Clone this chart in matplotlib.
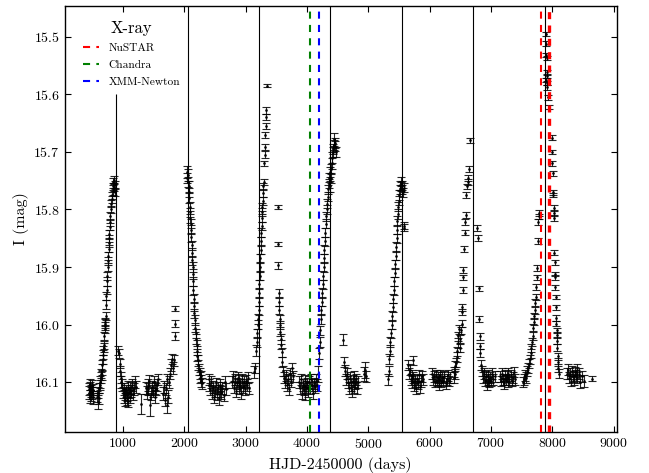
"""
OGLE I-band light curve with periastron markers and X-ray epochs
"""
import matplotlib.pyplot as plt

plt.rcParams["font.family"] = ["cmr10", "DejaVu Serif"]
plt.rcParams["axes.formatter.use_mathtext"] = True
plt.rcParams["mathtext.fontset"] = "cm"

# (HJD-2450000, I mag, error) per observing stretch
season_1 = [
    (440, 16.112, 0.010), (450, 16.118, 0.011), (456, 16.104, 0.010), (463, 16.125, 0.011),
    (470, 16.110, 0.010), (478, 16.121, 0.012), (485, 16.115, 0.010), (492, 16.107, 0.011),
    (500, 16.119, 0.010), (508, 16.126, 0.011), (515, 16.113, 0.010),
    (580, 16.125, 0.010), (590, 16.135, 0.012), (600, 16.118, 0.010), (605, 16.128, 0.010),
    (612, 16.110, 0.009), (620, 16.100, 0.010), (628, 16.105, 0.009), (635, 16.092, 0.009),
    (642, 16.085, 0.008), (650, 16.078, 0.009), (655, 16.088, 0.008), (662, 16.070, 0.008),
    (668, 16.060, 0.008), (672, 16.052, 0.008), (678, 16.045, 0.008), (684, 16.035, 0.007),
    (690, 16.040, 0.008), (695, 16.020, 0.007), (700, 16.008, 0.007), (705, 16.002, 0.007),
    (710, 15.995, 0.007), (715, 15.998, 0.007), (720, 15.985, 0.007), (725, 15.965, 0.007),
    (730, 15.950, 0.007), (735, 15.940, 0.007), (740, 15.925, 0.007), (745, 15.915, 0.007),
    (750, 15.900, 0.007), (755, 15.890, 0.007), (760, 15.880, 0.007), (765, 15.868, 0.006),
    (770, 15.858, 0.007), (775, 15.850, 0.006), (780, 15.842, 0.007), (785, 15.830, 0.006),
    (790, 15.822, 0.006), (795, 15.812, 0.007), (800, 15.800, 0.006), (808, 15.790, 0.006),
    (815, 15.782, 0.006), (822, 15.775, 0.006), (830, 15.768, 0.006), (838, 15.760, 0.006),
    (845, 15.752, 0.006), (852, 15.762, 0.006), (860, 15.748, 0.006), (868, 15.770, 0.006),
    (875, 15.756, 0.006),
]

season_2 = [
    (925, 16.045, 0.008), (935, 16.050, 0.008), (945, 16.068, 0.008), (955, 16.080, 0.009),
    (965, 16.092, 0.009), (975, 16.100, 0.010), (990, 16.105, 0.010), (1000, 16.118, 0.010),
    (1010, 16.125, 0.011), (1020, 16.112, 0.010), (1030, 16.130, 0.011), (1040, 16.120, 0.010),
    (1050, 16.115, 0.010), (1060, 16.128, 0.011), (1070, 16.122, 0.010), (1080, 16.108, 0.010),
    (1090, 16.132, 0.011), (1100, 16.118, 0.010), (1110, 16.110, 0.010), (1120, 16.125, 0.011),
    (1135, 16.115, 0.010), (1150, 16.105, 0.010), (1165, 16.120, 0.011), (1180, 16.112, 0.010),
    (1195, 16.100, 0.010), (1210, 16.108, 0.010), (1290, 16.138, 0.017),
    (1370, 16.110, 0.010), (1385, 16.118, 0.011), (1400, 16.105, 0.010), (1415, 16.112, 0.010),
    (1430, 16.098, 0.010), (1445, 16.140, 0.018), (1455, 16.120, 0.010), (1470, 16.108, 0.010),
    (1485, 16.115, 0.011), (1500, 16.100, 0.010), (1515, 16.110, 0.010), (1530, 16.125, 0.011),
    (1545, 16.112, 0.010), (1560, 16.105, 0.010), (1575, 16.095, 0.010),
    (1650, 16.120, 0.011), (1665, 16.108, 0.010), (1680, 16.130, 0.011), (1695, 16.112, 0.010),
    (1710, 16.095, 0.010), (1725, 16.140, 0.013), (1740, 16.125, 0.011), (1755, 16.100, 0.010),
    (1770, 16.085, 0.010), (1785, 16.070, 0.010), (1800, 16.060, 0.009), (1815, 16.075, 0.010),
    (1830, 16.062, 0.009),
    (1848, 15.972, 0.005), (1850, 15.998, 0.006), (1852, 16.019, 0.007),
]

season_3 = [
    (2045, 15.735, 0.010), (2052, 15.745, 0.009), (2060, 15.740, 0.010), (2066, 15.752, 0.009),
    (2072, 15.760, 0.009), (2078, 15.770, 0.008), (2082, 15.780, 0.008), (2088, 15.795, 0.008),
    (2093, 15.805, 0.008), (2098, 15.815, 0.008), (2104, 15.825, 0.008), (2110, 15.835, 0.008),
    (2115, 15.848, 0.008), (2120, 15.862, 0.008), (2125, 15.875, 0.008), (2130, 15.888, 0.008),
    (2135, 15.900, 0.008), (2140, 15.912, 0.008), (2145, 15.925, 0.008), (2150, 15.940, 0.008),
    (2155, 15.955, 0.008), (2160, 15.968, 0.008), (2165, 15.980, 0.008), (2172, 15.992, 0.008),
    (2178, 16.005, 0.008), (2185, 16.015, 0.008), (2192, 16.025, 0.008), (2200, 16.035, 0.008),
    (2208, 16.045, 0.008), (2215, 16.055, 0.008), (2222, 16.062, 0.009), (2230, 16.070, 0.009),
    (2240, 16.078, 0.009), (2250, 16.085, 0.009), (2260, 16.092, 0.009), (2270, 16.098, 0.010),
    (2280, 16.090, 0.009), (2290, 16.102, 0.010),
    (2395, 16.095, 0.010), (2410, 16.105, 0.010), (2425, 16.112, 0.010), (2440, 16.100, 0.010),
    (2455, 16.118, 0.011), (2470, 16.108, 0.010), (2485, 16.125, 0.011), (2500, 16.115, 0.010),
    (2515, 16.102, 0.010), (2530, 16.120, 0.011), (2545, 16.110, 0.010), (2560, 16.128, 0.011),
    (2575, 16.115, 0.010), (2590, 16.105, 0.010), (2605, 16.118, 0.011), (2620, 16.110, 0.010),
    (2640, 16.122, 0.010), (2660, 16.100, 0.010), (2680, 16.112, 0.010),
    (2780, 16.100, 0.010), (2795, 16.090, 0.010), (2810, 16.108, 0.010), (2825, 16.095, 0.010),
    (2840, 16.115, 0.011), (2855, 16.102, 0.010), (2870, 16.092, 0.010), (2885, 16.110, 0.010),
    (2900, 16.098, 0.010), (2915, 16.105, 0.010), (2930, 16.118, 0.011), (2945, 16.095, 0.010),
    (2960, 16.108, 0.010), (2975, 16.100, 0.010), (2990, 16.112, 0.010), (3005, 16.098, 0.010),
    (3020, 16.105, 0.010), (3040, 16.092, 0.010), (3060, 16.110, 0.010),
    (3130, 16.082, 0.010), (3150, 16.075, 0.009), (3170, 16.045, 0.009), (3180, 16.030, 0.009),
    (3190, 16.015, 0.008), (3200, 16.000, 0.008), (3205, 15.990, 0.008), (3210, 15.975, 0.008),
    (3215, 15.960, 0.008), (3220, 15.945, 0.008), (3225, 15.930, 0.008), (3230, 15.915, 0.008),
    (3235, 15.900, 0.008), (3240, 15.885, 0.008), (3245, 15.870, 0.008), (3250, 15.855, 0.008),
    (3255, 15.840, 0.007), (3260, 15.828, 0.007), (3265, 15.815, 0.007), (3270, 15.805, 0.007),
    (3275, 15.795, 0.007), (3280, 15.785, 0.007), (3285, 15.772, 0.007), (3290, 15.760, 0.006),
]

season_4 = [
    (3300, 15.752, 0.005), (3305, 15.720, 0.005), (3310, 15.705, 0.006), (3318, 15.692, 0.005),
    (3322, 15.670, 0.005), (3326, 15.655, 0.006), (3330, 15.640, 0.005), (3335, 15.628, 0.006),
    (3345, 15.585, 0.003),
    (3525, 15.796, 0.004), (3530, 15.860, 0.004), (3535, 15.897, 0.006),
    (3540, 15.945, 0.007), (3545, 15.960, 0.007), (3550, 15.975, 0.007), (3555, 15.990, 0.007),
    (3560, 16.000, 0.007), (3565, 16.012, 0.008), (3570, 16.025, 0.008), (3580, 16.035, 0.008),
    (3590, 16.048, 0.008),
    (3600, 16.065, 0.009), (3615, 16.080, 0.009), (3630, 16.092, 0.010), (3645, 16.100, 0.010),
    (3660, 16.088, 0.009), (3675, 16.105, 0.010), (3690, 16.095, 0.010), (3705, 16.112, 0.010),
    (3720, 16.085, 0.009), (3735, 16.098, 0.010), (3750, 16.075, 0.009), (3765, 16.090, 0.010),
    (3870, 16.100, 0.010), (3885, 16.110, 0.010), (3900, 16.095, 0.010), (3915, 16.118, 0.011),
    (3930, 16.105, 0.010), (3945, 16.112, 0.010), (3960, 16.098, 0.010), (3975, 16.120, 0.011),
    (3990, 16.108, 0.010), (4005, 16.102, 0.010), (4020, 16.115, 0.010), (4035, 16.100, 0.010),
    (4050, 16.110, 0.010), (4065, 16.095, 0.010), (4080, 16.105, 0.010), (4095, 16.118, 0.011),
    (4110, 16.102, 0.010), (4125, 16.108, 0.010), (4140, 16.095, 0.010), (4160, 16.105, 0.010),
    (4185, 16.085, 0.014), (4195, 16.050, 0.009), (4205, 16.030, 0.008), (4215, 16.010, 0.008),
    (4225, 15.990, 0.008), (4232, 15.975, 0.008), (4240, 15.960, 0.008), (4248, 15.945, 0.008),
    (4255, 15.930, 0.008), (4262, 15.915, 0.008), (4270, 15.900, 0.008), (4278, 15.885, 0.008),
    (4285, 15.870, 0.008), (4292, 15.855, 0.008), (4300, 15.840, 0.008), (4308, 15.825, 0.008),
    (4315, 15.812, 0.008), (4322, 15.800, 0.008), (4330, 15.790, 0.008), (4338, 15.778, 0.008),
    (4345, 15.765, 0.008), (4352, 15.755, 0.008), (4360, 15.745, 0.008), (4368, 15.735, 0.008),
    (4380, 15.760, 0.009), (4390, 15.745, 0.009), (4398, 15.730, 0.009), (4405, 15.720, 0.009),
    (4412, 15.710, 0.009), (4420, 15.700, 0.009), (4428, 15.695, 0.009), (4436, 15.688, 0.009),
    (4445, 15.678, 0.011), (4455, 15.690, 0.009), (4465, 15.685, 0.009), (4475, 15.700, 0.009),
]

season_5 = [
    (4590, 16.026, 0.010),
    (4610, 16.065, 0.009), (4625, 16.080, 0.010), (4640, 16.095, 0.010), (4655, 16.085, 0.010),
    (4670, 16.100, 0.010), (4685, 16.110, 0.011), (4700, 16.092, 0.010), (4715, 16.105, 0.010),
    (4730, 16.115, 0.011), (4745, 16.098, 0.010), (4760, 16.108, 0.010), (4775, 16.090, 0.010),
    (4790, 16.102, 0.010), (4805, 16.095, 0.010), (4820, 16.110, 0.010), (4840, 16.100, 0.010),
    (4930, 16.085, 0.012), (4945, 16.078, 0.014), (4960, 16.090, 0.010),
    (5320, 16.095, 0.010), (5330, 16.080, 0.009), (5340, 16.060, 0.009), (5350, 16.045, 0.009),
    (5360, 16.030, 0.008), (5370, 16.015, 0.008), (5380, 16.000, 0.008), (5390, 15.985, 0.008),
    (5400, 15.970, 0.008), (5408, 15.955, 0.008), (5415, 15.940, 0.008), (5422, 15.925, 0.008),
    (5430, 15.910, 0.008), (5438, 15.895, 0.008), (5445, 15.880, 0.008), (5452, 15.865, 0.008),
    (5460, 15.850, 0.008), (5468, 15.835, 0.008), (5475, 15.820, 0.008), (5482, 15.808, 0.008),
    (5490, 15.795, 0.008), (5498, 15.785, 0.008), (5505, 15.775, 0.008), (5512, 15.765, 0.008),
    (5520, 15.758, 0.008), (5528, 15.760, 0.008), (5536, 15.752, 0.008), (5545, 15.765, 0.008),
    (5555, 15.758, 0.008), (5565, 15.770, 0.008), (5575, 15.762, 0.008),
    (5580, 15.832, 0.006), (5590, 15.828, 0.006),
    (5650, 16.070, 0.009), (5660, 16.085, 0.010), (5675, 16.078, 0.010), (5690, 16.095, 0.010),
    (5705, 16.088, 0.010), (5720, 16.100, 0.010), (5730, 16.062, 0.008), (5735, 16.092, 0.010),
    (5750, 16.105, 0.010), (5765, 16.098, 0.010), (5780, 16.110, 0.010), (5795, 16.095, 0.010),
    (5810, 16.102, 0.010), (5825, 16.088, 0.010), (5840, 16.108, 0.010), (5860, 16.098, 0.010),
    (5880, 16.090, 0.010), (5900, 16.095, 0.010),
    (6040, 16.085, 0.009), (6055, 16.095, 0.009), (6070, 16.090, 0.009), (6085, 16.100, 0.009),
    (6100, 16.088, 0.009), (6115, 16.098, 0.009), (6130, 16.092, 0.009), (6145, 16.105, 0.009),
    (6160, 16.095, 0.009), (6175, 16.088, 0.009), (6190, 16.100, 0.009), (6205, 16.092, 0.009),
    (6220, 16.098, 0.009), (6240, 16.090, 0.009), (6260, 16.102, 0.009), (6280, 16.095, 0.009),
    (6300, 16.088, 0.009), (6320, 16.098, 0.009), (6340, 16.092, 0.009),
]

season_6 = [
    (6390, 16.092, 0.009), (6400, 16.082, 0.009), (6410, 16.072, 0.009), (6420, 16.086, 0.009),
    (6430, 16.066, 0.008), (6440, 16.056, 0.008), (6450, 16.046, 0.008), (6460, 16.032, 0.008),
    (6470, 16.020, 0.008), (6480, 16.008, 0.008), (6490, 16.040, 0.007), (6500, 16.025, 0.007),
    (6510, 16.010, 0.006), (6520, 15.998, 0.006), (6530, 15.978, 0.006), (6535, 15.970, 0.006),
    (6540, 15.940, 0.005), (6545, 15.918, 0.005), (6550, 15.905, 0.005), (6560, 15.868, 0.005),
    (6570, 15.840, 0.005), (6580, 15.822, 0.005), (6590, 15.810, 0.005), (6600, 15.775, 0.005),
    (6610, 15.760, 0.005), (6620, 15.752, 0.005), (6630, 15.745, 0.005), (6640, 15.730, 0.005),
    (6660, 15.680, 0.004),
    (6780, 15.832, 0.005), (6785, 15.850, 0.005), (6800, 15.937, 0.005), (6810, 15.990, 0.005),
    (6815, 16.020, 0.006), (6822, 16.037, 0.006), (6828, 16.050, 0.007),
    (6840, 16.070, 0.008), (6855, 16.080, 0.009), (6870, 16.092, 0.009), (6885, 16.085, 0.009),
    (6900, 16.098, 0.009), (6915, 16.090, 0.009), (6930, 16.105, 0.009), (6945, 16.095, 0.009),
    (6960, 16.088, 0.009), (6975, 16.100, 0.009), (6990, 16.092, 0.009), (7005, 16.098, 0.009),
    (7020, 16.085, 0.009), (7040, 16.095, 0.009), (7060, 16.090, 0.009),
    (7150, 16.090, 0.009), (7165, 16.098, 0.009), (7180, 16.085, 0.009), (7195, 16.095, 0.009),
    (7210, 16.102, 0.009), (7225, 16.088, 0.009), (7240, 16.096, 0.009), (7255, 16.090, 0.009),
    (7270, 16.100, 0.009), (7285, 16.085, 0.009), (7300, 16.095, 0.009), (7320, 16.088, 0.009),
    (7340, 16.098, 0.009), (7360, 16.092, 0.009), (7380, 16.082, 0.009), (7400, 16.095, 0.009),
    (7530, 16.100, 0.009), (7545, 16.095, 0.009), (7560, 16.088, 0.009), (7575, 16.092, 0.009),
    (7590, 16.080, 0.009), (7605, 16.075, 0.009), (7620, 16.068, 0.008), (7635, 16.060, 0.008),
    (7650, 16.050, 0.008), (7660, 16.040, 0.007), (7670, 16.030, 0.007), (7680, 16.020, 0.007),
    (7690, 16.005, 0.006), (7700, 15.995, 0.006), (7710, 15.985, 0.006), (7718, 15.975, 0.006),
    (7725, 15.962, 0.006), (7732, 15.952, 0.006), (7740, 15.935, 0.005), (7748, 15.918, 0.005),
    (7755, 15.902, 0.005), (7765, 15.855, 0.005), (7775, 15.822, 0.005), (7785, 15.812, 0.005),
    (7790, 15.806, 0.005),
]

season_7 = [
    (7900, 15.495, 0.004), (7905, 15.512, 0.004), (7895, 15.532, 0.004), (7912, 15.537, 0.004),
    (7908, 15.562, 0.004), (7915, 15.568, 0.004), (7902, 15.575, 0.004), (7918, 15.580, 0.004),
    (7920, 15.588, 0.004), (7930, 15.605, 0.004), (7940, 15.622, 0.004),
    (7990, 15.675, 0.004), (7995, 15.700, 0.004), (8000, 15.720, 0.004), (8005, 15.737, 0.004),
    (8010, 15.770, 0.004), (8015, 15.775, 0.004), (8020, 15.798, 0.005), (8025, 15.806, 0.005),
    (8030, 15.815, 0.005), (8035, 15.875, 0.004), (8040, 15.892, 0.004), (8045, 15.912, 0.004),
    (8048, 15.918, 0.004), (8052, 15.935, 0.004), (8055, 15.952, 0.004), (8060, 15.970, 0.005),
    (8065, 15.988, 0.005), (8068, 15.998, 0.005), (8072, 16.010, 0.005), (8076, 16.018, 0.005),
    (8080, 16.028, 0.006), (8085, 16.040, 0.006), (8090, 16.055, 0.006), (8095, 16.065, 0.007),
    (8100, 16.075, 0.007), (8110, 16.085, 0.008),
    (8245, 16.085, 0.009), (8260, 16.078, 0.009), (8275, 16.092, 0.009), (8290, 16.085, 0.009),
    (8305, 16.098, 0.009), (8320, 16.080, 0.009), (8335, 16.090, 0.009), (8350, 16.095, 0.009),
    (8365, 16.082, 0.009), (8380, 16.088, 0.009), (8395, 16.078, 0.009), (8410, 16.092, 0.009),
    (8430, 16.085, 0.009), (8450, 16.100, 0.010), (8480, 16.090, 0.009), (8520, 16.098, 0.010),
    (8650, 16.094, 0.004),
]

# Periastron epochs (solid lines) and X-ray pointings (dashed lines)
periastron = [887, 2054, 3218, 4381, 5546, 6711, 7876]
nustar = [7816, 7952]
chandra = [4050]
xmm = [4196]


def plot_light_curve():
    fig = plt.figure(figsize=(6.49, 4.73), dpi=100)
    ax = fig.add_axes([0.0997, 0.086, 0.8505, 0.902])

    for season in [season_1, season_2, season_3, season_4,
                   season_5, season_6, season_7]:
        t = [row[0] for row in season]
        mag = [row[1] for row in season]
        err = [row[2] for row in season]
        ax.errorbar(t, mag, yerr=err, fmt="k.", markersize=2,
                    elinewidth=0.8, capsize=2.8, capthick=0.8,
                    ecolor="k", alpha=0.85, zorder=2)

    # First periastron line starts at 15.6, the others span the axis
    ax.vlines(periastron[0], 15.6, 16.3, color="k", linewidth=0.8, zorder=1)
    for x in periastron[1:]:
        ax.axvline(x, color="k", linewidth=0.8, zorder=1)

    for x_list, colour, name in [(nustar, "red", "NuSTAR"),
                                 (chandra, "green", "Chandra"),
                                 (xmm, "blue", "XMM-Newton")]:
        for i, x in enumerate(x_list):
            # the later NuSTAR pointing is drawn heavier
            width = 2.4 if (name == "NuSTAR" and i == 1) else 1.5
            line = ax.axvline(x, color=colour, linewidth=width, zorder=3,
                              label=name if i == 0 else None)
            line.set_dashes((3.4, 3.0) if width == 1.5 else (2.1, 1.9))

    ax.set_xlim(50, 9050)
    ax.set_ylim(16.187, 15.446)
    ax.set_xticks(range(1000, 10000, 1000))
    ax.set_yticks([15.5, 15.6, 15.7, 15.8, 15.9, 16.0, 16.1])
    ax.tick_params(direction="in", top=True, right=True, length=4,
                   width=0.8, labelsize=10)
    for spine in ax.spines.values():
        spine.set_linewidth(1.0)

    ax.set_xlabel("HJD-2450000 (days)", fontsize=11.5, labelpad=4)
    ax.set_ylabel("I (mag)", fontsize=11.5, labelpad=3)

    leg = ax.legend(title="X-ray", loc="upper left",
                    bbox_to_anchor=(0.015, 0.988), frameon=False,
                    fontsize=8.2, title_fontsize=12, handlelength=1.4,
                    handletextpad=0.8, labelspacing=0.6)
    leg._legend_box.align = "center"

    fig.savefig("out.png", dpi=100)
    plt.close(fig)


if __name__ == "__main__":
    plot_light_curve()
